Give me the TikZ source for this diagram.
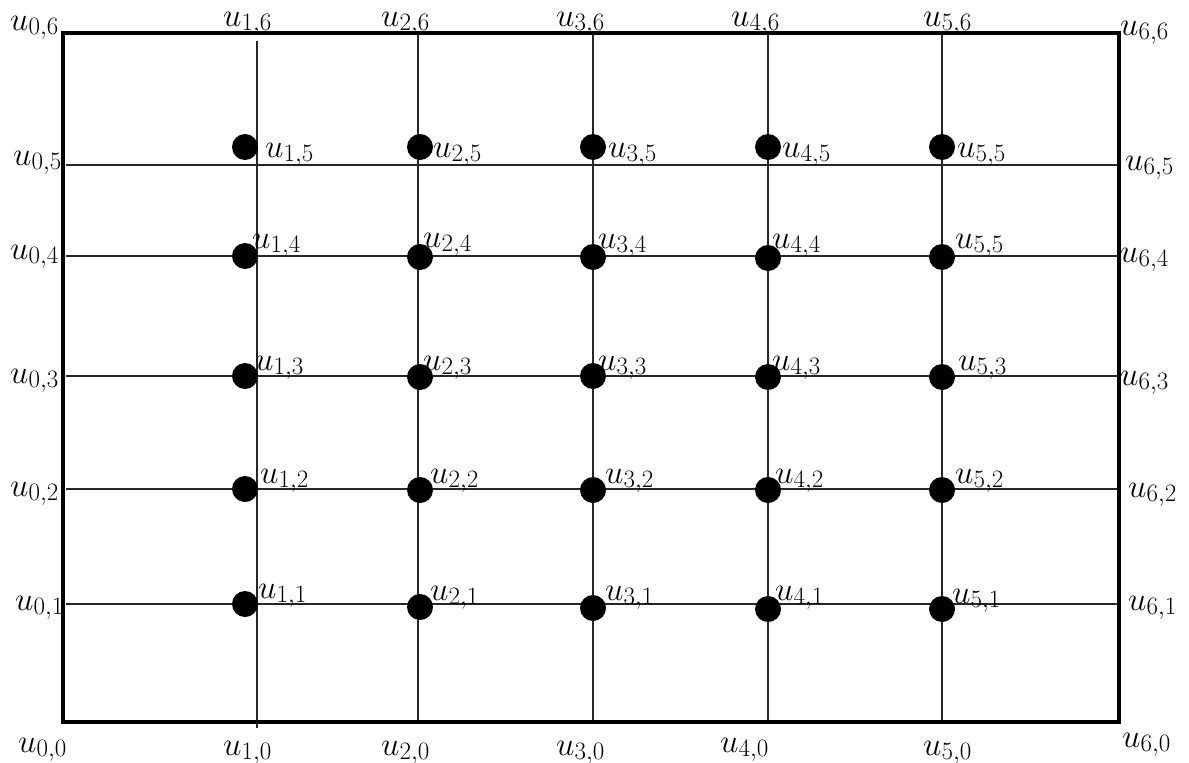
\RequirePackage{fix-cm}
\documentclass[tikz,border=0pt]{standalone}
\DeclareMathSizes{33}{33}{25}{20}
\begin{document}
\begin{tikzpicture}[x={(1pt,0pt)},y={(0pt,-1pt)},
  border/.style={line width=3.2pt,black},
  gridline/.style={line width=1.3pt,black!85},
  dot/.style={circle,fill=black,minimum size=26pt,inner sep=0pt},
  lab/.style={anchor=base west,inner sep=0pt,font=\fontsize{33}{40}\selectfont}]
\useasboundingbox (0,0) rectangle (1189,763);
% grid lines
\draw[gridline] (257,41) -- (257,728);
\foreach \x in {418,593,768,942} \draw[gridline] (\x,33) -- (\x,722);
\foreach \y in {165,256,376,489,604} \draw[gridline] (66,\y) -- (1120,\y);
% border
\draw[border] (63,33) rectangle (1119,722);
% dots
\foreach \c/\x in {1/245,2/420,3/593,4/768,5/942}{
  \node[dot] (d\c5) at (\x,147) {};
}
\foreach \c/\x/\y in {1/245/256,2/420/257,3/593/257,4/768/258,5/942/257}
  \node[dot] (d\c4) at (\x,\y) {};
\foreach \c/\x/\y in {1/245/376,2/420/377,3/593/376,4/768/377,5/942/377}
  \node[dot] (d\c3) at (\x,\y) {};
\foreach \c/\x/\y in {1/245/489,2/420/490,3/593/490,4/768/490,5/942/490}
  \node[dot] (d\c2) at (\x,\y) {};
\foreach \c/\x/\y in {1/245/604,2/420/607,3/593/608,4/768/609,5/942/609}
  \node[dot] (d\c1) at (\x,\y) {};
% labels
\foreach \n/\t/\x/\y in {
  l06/{0,6}/10/30, l16/{1,6}/223/26, l26/{2,6}/381/26, l36/{3,6}/556/26, l46/{4,6}/731/26, l56/{5,6}/923/26, l66/{6,6}/1120/35,
  l05/{0,5}/13/165, l15/{1,5}/265/157, l25/{2,5}/433/157, l35/{3,5}/608/157, l45/{4,5}/782/157, l55/{5,5}/957/157, l65/{6,5}/1125/170,
  l04/{0,4}/10/259, l14/{1,4}/252/248, l24/{2,4}/423/247, l34/{3,4}/598/248, l44/{4,4}/772/248, l54/{5,5}/955/248, l64/{6,4}/1120/262,
  l03/{0,3}/10/383, l13/{1,3}/255/370, l23/{2,3}/423/370, l33/{3,3}/598/370, l43/{4,3}/772/370, l53/{5,3}/958/370, l63/{6,3}/1120/385,
  l02/{0,2}/10/496, l12/{1,2}/260/483, l22/{2,2}/430/483, l32/{3,2}/605/483, l42/{4,2}/775/483, l52/{5,2}/955/483, l62/{6,2}/1128/497,
  l01/{0,1}/15/610, l11/{1,1}/258/598, l21/{2,1}/430/600, l31/{3,1}/605/600, l41/{4,1}/775/600, l51/{5,1}/952/603, l61/{6,1}/1128/610,
  l00/{0,0}/18/752, l10/{1,0}/223/755, l20/{2,0}/381/755, l30/{3,0}/556/755, l40/{4,0}/720/752, l50/{5,0}/923/755, l60/{6,0}/1122/747}
  \node[lab] (\n) at (\x,\y) {$u_{\t}$};
\end{tikzpicture}
\end{document}
